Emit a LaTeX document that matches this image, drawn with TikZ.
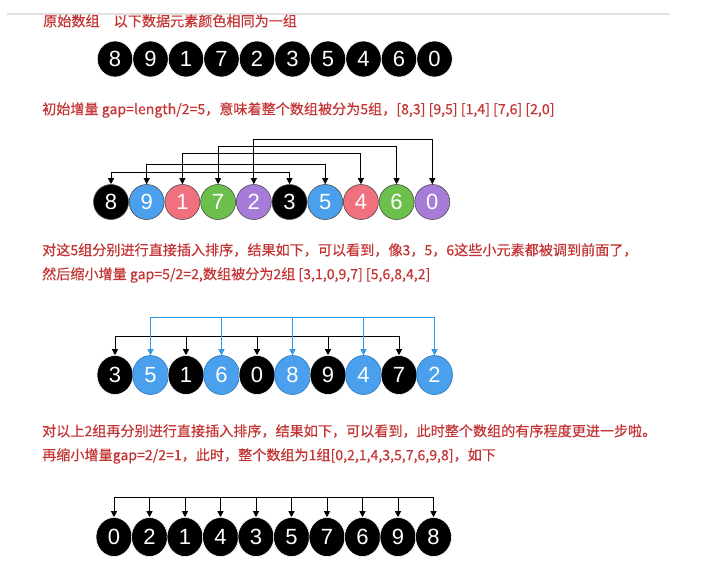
\documentclass[tikz,border=0pt]{standalone}
\usepackage{fontspec}
\setmainfont{Liberation Sans}
\newfontfamily\cjk[FakeBold=0.35]{Noto Sans CJK SC}
\usetikzlibrary{arrows.meta,shapes.geometric}
\definecolor{txtred}{RGB}{196,52,52}
\definecolor{cblue}{RGB}{74,160,236}
\definecolor{cpink}{RGB}{240,112,126}
\definecolor{cgreen}{RGB}{108,191,74}
\definecolor{cpurple}{RGB}{167,123,216}
\definecolor{lblue}{RGB}{46,155,239}
\definecolor{bblue}{RGB}{40,120,190}
\tikzset{
  txt/.style={anchor=west, inner sep=0pt, text=txtred, font=\cjk\fontsize{14.1}{16}\selectfont},
  digit/.style={text=white, font=\fontsize{22}{22}\selectfont, inner sep=0pt},
  blk/.style={digit, ellipse, fill=black, draw=white, line width=0.6pt, minimum width=36pt, minimum height=39pt},
  blkone/.style={blk, minimum width=35.5pt, minimum height=36pt},
  bel/.style={digit, ellipse, fill=cblue, draw=bblue, line width=0.6pt, minimum width=36pt, minimum height=39pt},
  cir/.style={digit, circle, draw=black!70, line width=0.6pt, minimum size=35pt},
  arr/.style={draw=black, line width=0.9pt, -{Triangle[length=6pt,width=6pt]}},
  arrboth/.style={draw=black, line width=0.9pt, {Triangle[length=6pt,width=6pt]}-{Triangle[length=6pt,width=6pt]}},
}
\begin{document}
\begin{tikzpicture}[x=1pt,y=-1pt]
\useasboundingbox (0,0) rectangle (703,586);
\fill[white] (0,0) rectangle (703,586);
\draw[black!12, line width=1.2pt] (7,14) -- (670,14);

% texts
\node[txt] (t1) at (43,21) {原始数组\hspace{1em}以下数据元素颜色相同为一组};
\node[txt] (t2) at (42,110) {初始增量 gap=length/2=5，意味着整个数组被分为5组，[8,3] [9,5] [1,4] [7,6] [2,0]};
\node[txt] (t3) at (42,250) {对这5组分别进行直接插入排序，结果如下，可以看到，像3，5，6这些小元素都被调到前面了，};
\node[txt] (t4) at (42,275) {然后缩小增量 gap=5/2=2,数组被分为2组 [3,1,0,9,7] [5,6,8,4,2]};
\node[txt] (t5) at (42,431) {对以上2组再分别进行直接插入排序，结果如下，可以看到，此时整个数组的有序程度更进一步啦。};
\node[txt] (t6) at (42,456) {再缩小增量gap=2/2=1，此时，整个数组为1组[0,2,1,4,3,5,7,6,9,8]，如下};

% row 1
\foreach \v [count=\i from 0] in {8,9,1,7,2,3,5,4,6,0}
  \node[blkone] (a\i) at ({115+35.5*\i},59) {\v};

% row 2
\foreach \v/\c [count=\i from 0] in {8/black,9/cblue,1/cpink,7/cgreen,2/cpurple,3/black,5/cblue,4/cpink,6/cgreen,0/cpurple}
  \node[cir, fill=\c] (b\i) at ({111+35.7*\i},202) {\v};
\foreach \i/\lvl in {0/172,1/164,2/153,3/146,4/139}{
  \pgfmathtruncatemacro{\j}{\i+5}
  \coordinate (L\i) at (0,\lvl);
  \draw[arrboth] (b\i.north) -- (b\i.north |- L\i) -| (b\j.north);
}

% row 3
\foreach \v/\s [count=\i from 0] in {3/blk,5/bel,1/blk,6/bel,0/blk,8/bel,9/blk,4/bel,7/blk,2/bel}
  \node[\s] (c\i) at ({115+35.5*\i},375) {\v};
\coordinate (Lk) at (0,336);
\coordinate (Lb) at (0,317);
\draw[arrboth] (c0.north) -- (c0.north |- Lk) -| (c8.north);
\foreach \j in {2,4,6} \draw[arr] (c\j.north |- Lk) -- (c\j.north);
\draw[arrboth, draw=lblue, color=lblue] (c1.north) -- (c1.north |- Lb) -| (c9.north);
\foreach \j in {3,5,7} \draw[arr, draw=lblue, color=lblue] (c\j.north |- Lb) -- (c\j.north);

% row 4
\foreach \v [count=\i from 0] in {0,2,1,4,3,5,7,6,9,8}
  \node[blk] (d\i) at ({114+35.5*\i},537) {\v};
\coordinate (L4) at (0,497);
\draw[arrboth] (d0.north) -- (d0.north |- L4) -| (d9.north);
\foreach \j in {1,...,8} \draw[arr] (d\j.north |- L4) -- (d\j.north);
\end{tikzpicture}
\end{document}
